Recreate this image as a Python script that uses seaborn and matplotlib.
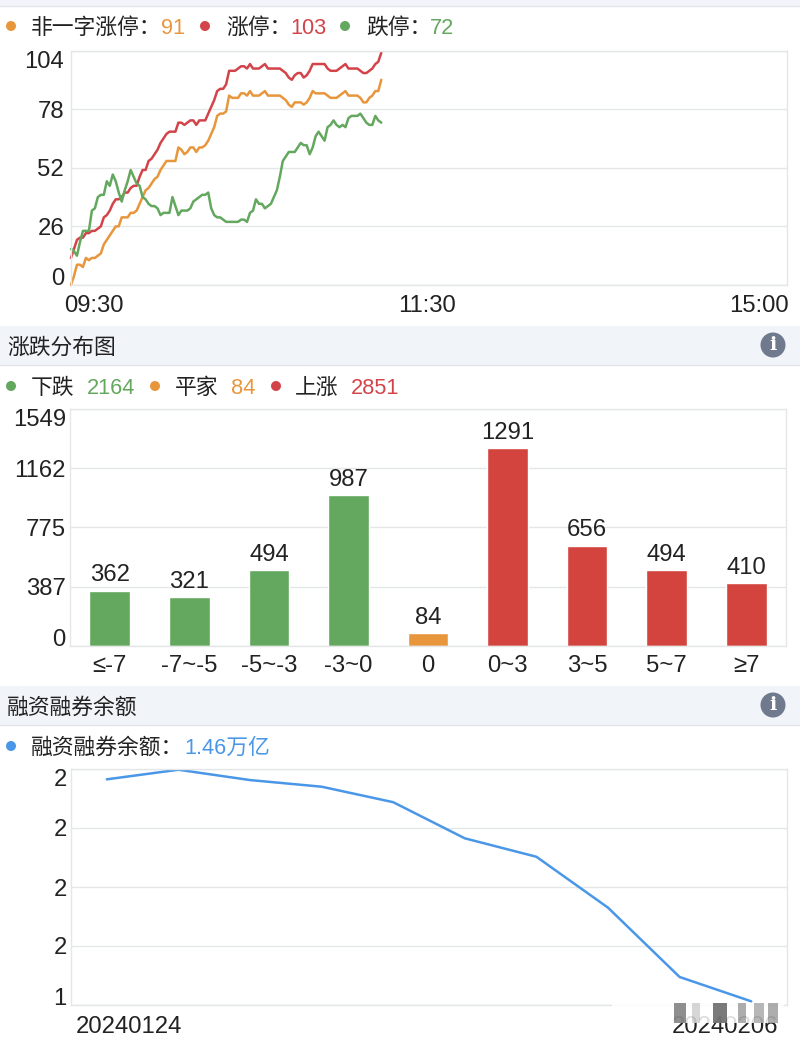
import numpy as np
import matplotlib
matplotlib.use("Agg")
import matplotlib.pyplot as plt
from matplotlib.patches import Circle, Rectangle
from matplotlib.transforms import ScaledTranslation
import seaborn as sns

limit_up_open = [0,4,9,9,8,12,11,12,12,13,14,18,20,22,24,26,26,30,30,30,32,32,33,36,39,42,43,45,47,48,51,53,55,55,55,55,61,60,58,59,61,61,59,61,61,62,64,67,70,75,76,76,77,84,83,83,83,85,85,84,86,84,84,84,85,86,84,84,84,84,84,83,82,80,79,81,81,81,80,81,83,86,85,85,85,85,84,83,83,83,84,85,86,84,84,84,84,83,81,81,83,84,86,86,91]
limit_up = [12,16,20,21,21,23,23,24,24,25,26,30,31,33,36,38,38,39,41,41,43,44,44,48,51,51,55,56,58,60,63,65,67,68,68,68,72,72,71,72,73,73,71,73,73,73,76,79,82,86,87,87,89,95,95,95,96,97,97,96,98,96,96,96,97,98,96,96,96,96,96,95,94,92,91,93,94,94,92,93,95,98,98,98,98,98,96,95,95,95,96,97,98,96,96,96,96,95,94,94,95,96,98,99,103]
limit_down = [16,15,13,19,24,24,24,33,34,39,40,40,46,44,49,46,41,37,42,46,51,48,45,44,39,38,36,35,35,34,31,32,32,32,39,35,31,33,33,33,34,37,38,39,40,40,41,34,31,30,30,29,28,28,28,28,28,29,29,28,32,33,38,36,36,34,35,36,39,42,48,55,57,59,59,59,61,63,62,62,58,61,66,68,66,64,70,71,73,71,70,71,70,74,75,75,75,76,74,72,71,71,75,73,72]
top_ticks = [0, 26, 52, 78, 104]
time_ticks = [0, 120, 240]
time_labels = ["09:30", "11:30", "15:00"]

dist_cats = ["≤-7", "-7~-5", "-5~-3", "-3~0", "0", "0~3", "3~5", "5~7", "≥7"]
dist_vals = [362, 321, 494, 987, 84, 1291, 656, 494, 410]
dist_ticks = [0, 387, 775, 1162, 1549]

margin_dates = ["20240124", "20240125", "20240126", "20240129", "20240130", "20240131", "20240201", "20240202", "20240205", "20240206"]
margin_vals = [1.761, 1.774, 1.760, 1.751, 1.730, 1.681, 1.656, 1.587, 1.493, 1.460]
margin_ticks = [1.455, 1.535, 1.615, 1.695, 1.775]
margin_labels = ["1", "2", "2", "2", "2"]

ORANGE, RED, GREEN, BLUE = "#E8963C", "#D2444A", "#63A85E", "#4A97E8"
BAR_RED = "#D4443F"
TXT = "#222222"
LINE = "#E4E6E8"

sns.set_theme(style="white")
plt.rcParams["font.family"] = ["Liberation Sans", "Noto Sans CJK SC", "DejaVu Sans"]
FS = 17.2
LFS = 15.7

W, H = 800, 1042
fig = plt.figure(figsize=(W / 100, H / 100), dpi=100, facecolor="white")


def make_ax(l, t, r, b):
    ax = fig.add_axes([l / W, 1 - b / H, (r - l) / W, (b - t) / H])
    ax.set_facecolor("white")
    for s in ax.spines.values():
        s.set_color(LINE)
        s.set_linewidth(1)
    ax.grid(axis="y", color=LINE, linewidth=1)
    ax.set_axisbelow(True)
    return ax


def style_ticks(ax, ypad=5, xpad=8):
    ax.tick_params(axis="both", length=0, labelsize=FS, labelcolor=TXT)
    ax.tick_params(axis="y", pad=ypad)
    ax.tick_params(axis="x", pad=xpad)
    labs = ax.get_yticklabels()
    labs[0].set_va("baseline")
    labs[-1].set_va("top")
    ax.set_xlabel("")
    ax.set_ylabel("")


def shift(label, dx):
    label.set_transform(label.get_transform() + ScaledTranslation(dx / 100, 0, fig.dpi_scale_trans))


# top panel
ax1 = make_ax(71, 50.5, 787, 285)
for series, col in ((limit_up_open, ORANGE), (limit_up, RED), (limit_down, GREEN)):
    sns.lineplot(x=np.arange(len(series)), y=series, color=col, linewidth=1.8, ax=ax1, clip_on=False)
ax1.set_xlim(0, 240)
ax1.set_ylim(0, 104)
ax1.set_yticks(top_ticks)
ax1.set_xticks(time_ticks)
ax1.set_xticklabels(time_labels)
style_ticks(ax1, xpad=7)
xl = ax1.get_xticklabels()
xl[0].set_ha("left")
shift(xl[0], -7)
xl[2].set_ha("right")
shift(xl[2], 2)
shift(xl[1], -2)

# bars
ax2 = make_ax(70, 409, 786, 646)
bar_cols = [GREEN] * 4 + [ORANGE] + [BAR_RED] * 4
sns.barplot(x=dist_cats, y=dist_vals, hue=dist_cats, palette=bar_cols, width=0.51, legend=False,
            saturation=1, ax=ax2)
ax2.set_xlim(-0.5, 8.5)
ax2.set_ylim(0, 1549)
ax2.set_yticks(dist_ticks)
style_ticks(ax2, ypad=3, xpad=6.5)
for c in ax2.containers:
    ax2.bar_label(c, fontsize=FS, color=TXT, padding=3)

# margin
ax3 = make_ax(71, 769, 787, 1005)
sns.lineplot(x=np.arange(len(margin_vals)), y=margin_vals, color=BLUE, linewidth=1.8, ax=ax3)
ax3.set_xlim(-0.5, 9.5)
ax3.set_ylim(margin_ticks[0], margin_ticks[-1])
ax3.set_yticks(margin_ticks)
ax3.set_yticklabels(margin_labels)
ax3.set_xticks([0, 9])
ax3.set_xticklabels([margin_dates[0], margin_dates[-1]])
style_ticks(ax3, ypad=3)
xl3 = ax3.get_xticklabels()
shift(xl3[0], 22)
shift(xl3[1], -26)

# overlay in pixel coordinates for page chrome
ov = fig.add_axes([0, 0, 1, 1], zorder=10)
ov.set_xlim(0, W)
ov.set_ylim(H, 0)
ov.axis("off")
ov.patch.set_alpha(0)


def band(y0, y1):
    ov.add_patch(Rectangle((0, y0), W, y1 - y0, facecolor="#F1F4F8", edgecolor="none"))
    ov.plot([0, W], [y1, y1], color="#E2E5E9", lw=1)


def legend(items, y, r=5):
    for kind, x, s, c in items:
        if kind == "dot":
            ov.add_patch(Circle((x, y), r, facecolor=c, edgecolor="none"))
        else:
            ov.text(x, y, s, color=c, fontsize=LFS, va="center_baseline", ha="left")


def info(y):
    ov.add_patch(Circle((773, y), 12.5, facecolor="#707A8E", edgecolor="none"))
    ov.text(773, y, "i", color="white", fontsize=14, fontweight="bold", family="DejaVu Serif",
            ha="center", va="center")


band(0, 6)
band(326, 365)
band(686, 725)
ov.text(7, 346, "涨跌分布图", fontsize=LFS, color=TXT, va="center_baseline")
ov.text(7, 706, "融资融券余额", fontsize=LFS, color=TXT, va="center_baseline")
info(345)
info(705)

legend([("dot", 11, "", ORANGE), ("t", 31, "非一字涨停：", TXT), ("t", 161, "91", ORANGE),
        ("dot", 205, "", RED), ("t", 226, "涨停：", TXT), ("t", 290, "103", RED),
        ("dot", 345, "", GREEN), ("t", 366, "跌停：", TXT), ("t", 430, "72", GREEN)], 26)
legend([("dot", 11, "", GREEN), ("t", 31, "下跌", TXT), ("t", 87, "2164", GREEN),
        ("dot", 155, "", ORANGE), ("t", 175, "平家", TXT), ("t", 231, "84", ORANGE),
        ("dot", 276, "", RED), ("t", 295, "上涨", TXT), ("t", 351, "2851", RED)], 386)
legend([("dot", 11, "", BLUE), ("t", 31, "融资融券余额：", TXT), ("t", 184, "1.46万亿", BLUE)], 746)

# watermark: a pale veil with dark streaks over the last date label
ov.add_patch(Rectangle((612, 1003), 172, 20, facecolor="white", edgecolor="none", alpha=0.85))
for x0, x1, a in ((674, 686, 0.55), (692, 700, 0.2), (713, 727, 0.65), (738, 746, 0.4), (754, 764, 0.35), (768, 778, 0.4)):
    ov.add_patch(Rectangle((x0, 1003), x1 - x0, 20, facecolor="#333333", edgecolor="none", alpha=a))

fig.savefig("out.png", dpi=100)
